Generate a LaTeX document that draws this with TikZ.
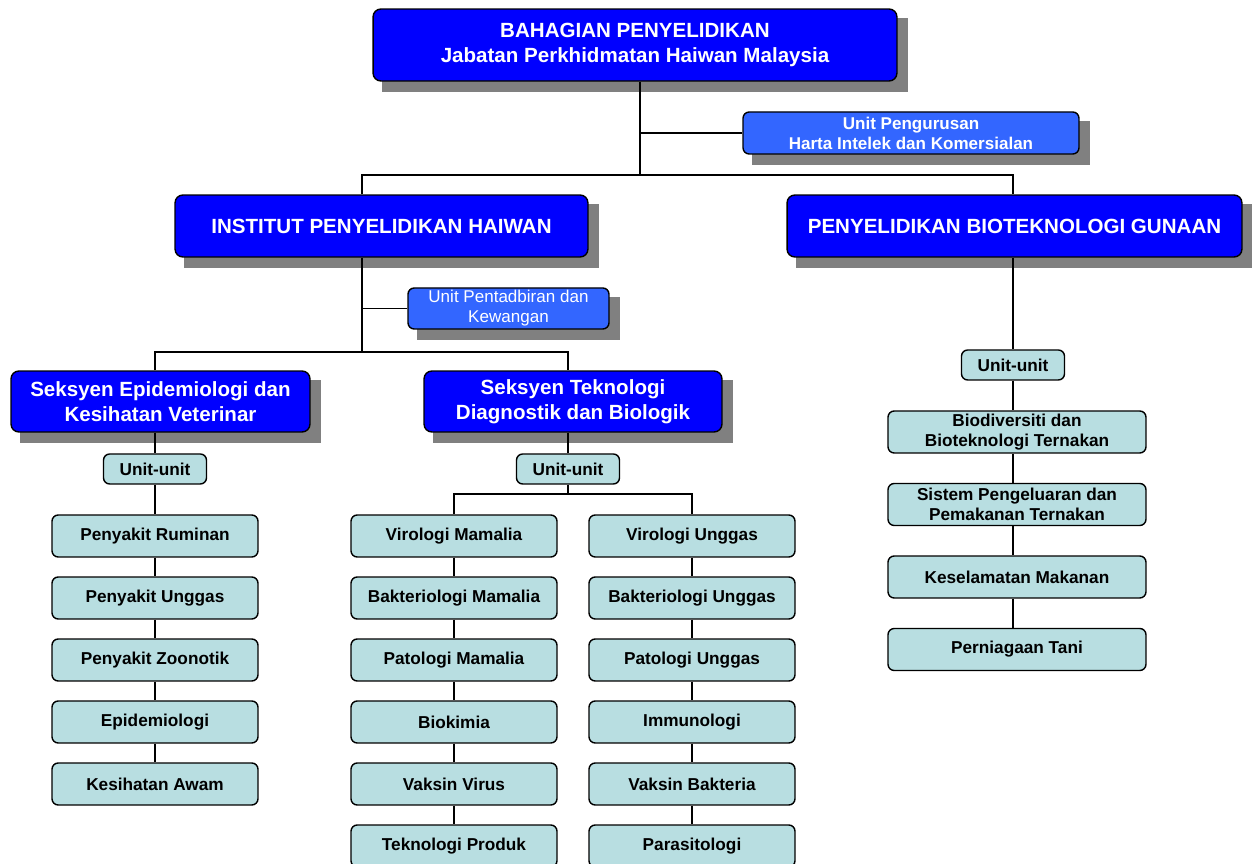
\documentclass[tikz,border=0pt]{standalone}
\usepackage{fontspec}
\setmainfont{Liberation Sans}
\usetikzlibrary{backgrounds}

\definecolor{headblue}{RGB}{0,0,255}
\definecolor{unitblue}{RGB}{51,102,255}
\definecolor{cellcyan}{RGB}{184,222,225}
\definecolor{shadowgray}{RGB}{128,128,128}

\tikzset{
  box/.style={draw=black, line width=0.8pt, align=center, inner sep=0pt},
  headbox/.style={box, rounded corners=4.5pt, fill=headblue, text=white,
    font=\fontsize{11.7}{14.2}\selectfont\bfseries},
  unitbox/.style={box, rounded corners=3.5pt, fill=unitblue, text=white,
    font=\fontsize{9.7}{11.3}\selectfont},
  cellbox/.style={box, rounded corners=3.5pt, fill=cellcyan, text=black,
    minimum width=4.12cm, minimum height=0.84cm,
    font=\fontsize{9.8}{11.3}\selectfont\bfseries},
  link/.style={draw=black, line width=1.1pt},
}

\begin{document}
\begin{tikzpicture}[x=0.02cm, y=-0.02cm]
\useasboundingbox (0,0) rectangle (1252,864);

% top level
\node[headbox, minimum width=10.48cm, minimum height=1.44cm] (top) at (635,45)
  {BAHAGIAN PENYELIDIKAN\\Jabatan Perkhidmatan Haiwan Malaysia};
\node[unitbox, font=\fontsize{9.7}{11.3}\selectfont\bfseries,
  minimum width=6.72cm, minimum height=0.84cm] (upik) at (911,133)
  {Unit Pengurusan\\Harta Intelek dan Komersialan};

% second level
\node[headbox, minimum width=8.26cm, minimum height=1.24cm] (ipk) at (381.5,226)
  {INSTITUT PENYELIDIKAN HAIWAN};
\node[headbox, minimum width=9.1cm, minimum height=1.24cm] (bio) at (1014.5,226)
  {PENYELIDIKAN BIOTEKNOLOGI GUNAAN};
\node[unitbox, minimum width=4.02cm, minimum height=0.82cm] (uadm) at (508.5,308.5)
  {Unit Pentadbiran dan\\Kewangan};

% seksyen
\node[headbox, minimum width=5.98cm, minimum height=1.22cm] (sepi) at (160.5,401.5)
  {Seksyen Epidemiologi dan\\Kesihatan Veterinar};
\node[headbox, minimum width=5.96cm, minimum height=1.22cm] (stek) at (573,401.5)
  {Seksyen Teknologi\\Diagnostik dan Biologik};

% unit-unit
\node[cellbox, minimum width=2.06cm, minimum height=0.6cm] (usepi) at (155,469) {Unit-unit};
\node[cellbox, minimum width=2.06cm, minimum height=0.6cm] (ustek) at (568,469) {Unit-unit};
\node[cellbox, minimum width=2.06cm, minimum height=0.6cm] (ubio) at (1013,365) {Unit-unit};

\foreach \t [count=\i] in {Penyakit Ruminan, Penyakit Unggas, Penyakit Zoonotik,
    Epidemiologi, Kesihatan Awam}
  \node[cellbox] (e\i) at (155,474+62*\i) {\t};
\foreach \t [count=\i] in {Virologi Mamalia, Bakteriologi Mamalia, Patologi Mamalia,
    Biokimia, Vaksin Virus, Teknologi Produk}
  \node[cellbox] (m\i) at (454,474+62*\i) {\t};
\foreach \t [count=\i] in {Virologi Unggas, Bakteriologi Unggas, Patologi Unggas,
    Immunologi, Vaksin Bakteria, Parasitologi}
  \node[cellbox] (g\i) at (692,474+62*\i) {\t};
\foreach \t [count=\i] in {{Biodiversiti dan\\Bioteknologi Ternakan},
    {Sistem Pengeluaran dan\\Pemakanan Ternakan}, Keselamatan Makanan, Perniagaan Tani}
  \node[cellbox, minimum width=5.16cm] (b\i) at (1017,359.5+72.5*\i) {\t};

% shadows
\begin{scope}[on background layer]
  \foreach \n in {top,upik,ipk,bio,uadm,sepi,stek}
    \fill[shadowgray] ([shift={(10,10)}]\n.south west) rectangle ([shift={(10,10)}]\n.north east);
\end{scope}

% connectors
\coordinate (jtop) at (640,175);
\coordinate (jsec) at (362,352);
\coordinate (jtek) at (568,494);
\draw[link] (top.south -| jtop) -- (jtop);
\draw[link] (upik.west) -| (jtop);
\draw[link] (ipk.north -| jsec) |- (jtop) -| (bio.north -| ubio);
\draw[link] (ipk.south -| jsec) -- (jsec);
\draw[link] (uadm.west) -| (jsec);
\draw[link] (sepi.north -| usepi) |- (jsec) -| (stek.north -| ustek);
\draw[link] (sepi.south -| usepi) -- (usepi);
\draw[link] (stek.south -| ustek) -- (ustek);
\draw[link] (usepi) -- (e1) -- (e2) -- (e3) -- (e4) -- (e5);
\draw[link] (ustek) -- (jtek);
\draw[link] (m1.north) |- (jtek) -| (g1.north);
\draw[link] (m1) -- (m2) -- (m3) -- (m4) -- (m5) -- (m6);
\draw[link] (g1) -- (g2) -- (g3) -- (g4) -- (g5) -- (g6);
\draw[link] (bio.south -| ubio) -- (ubio);
\draw[link] (ubio.south) -- (ubio.south |- b1.north);
\draw[link] (ubio.south |- b1.south) -- (ubio.south |- b2.north);
\draw[link] (ubio.south |- b2.south) -- (ubio.south |- b3.north);
\draw[link] (ubio.south |- b3.south) -- (ubio.south |- b4.north);
\end{tikzpicture}
\end{document}
